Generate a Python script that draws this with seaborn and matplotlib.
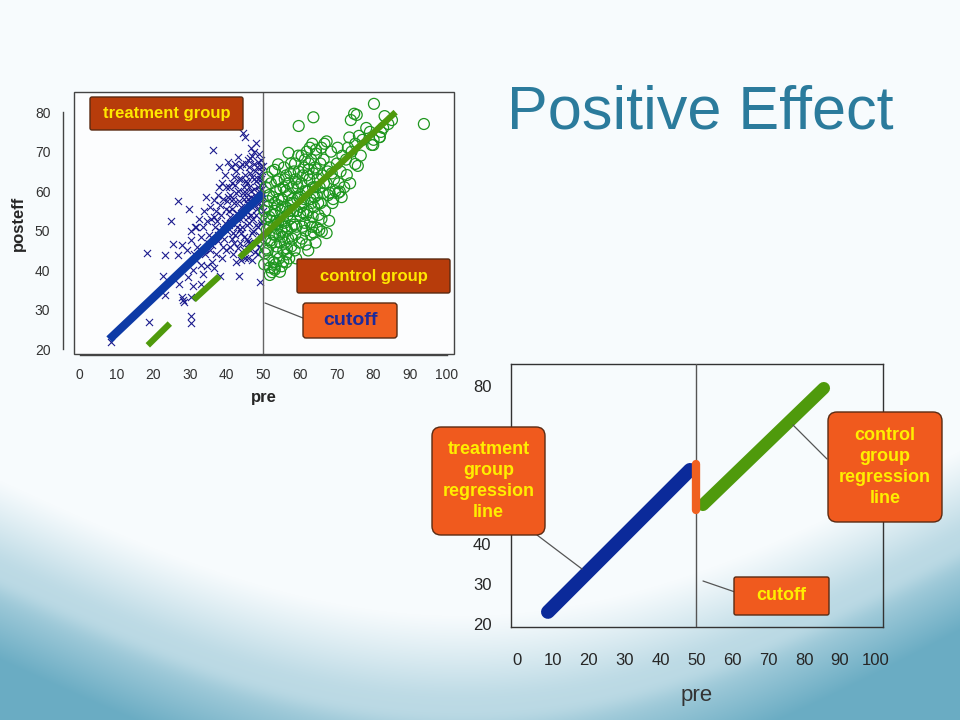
import numpy as np
import pandas as pd
import matplotlib
matplotlib.use("Agg")
import matplotlib.pyplot as plt
import matplotlib.transforms as mtransforms
from matplotlib.patches import FancyBboxPatch, Rectangle
from matplotlib.lines import Line2D
import seaborn as sns

# scatter values: (pre, posteff)
treat_points = [
    (8.6, 21.8), (18.2, 44.3), (18.8, 27), (22.7, 38.6), (23.1, 43.8), (23.1, 33.8),
    (24.7, 52.4), (25.3, 46.6), (26.7, 43.8), (26.8, 57.6), (27.1, 36.5), (27.7, 33.3),
    (27.9, 46.3), (28.1, 32.5), (28.4, 32), (29.2, 45.1), (29.5, 38.4), (29.6, 55.6),
    (30.2, 49.8), (30.2, 47.7), (30.2, 28.3), (30.2, 26.6), (30.2, 33.3), (30.7, 35.9),
    (31.3, 51), (31.6, 50.9), (32.9, 41.4), (32.9, 36.5), (33.4, 51), (34.3, 58.5),
    (31, 44), (32, 46), (33, 48.5), (34, 44), (34.5, 41), (33.5, 39), (31.5, 42.5),
    (32.5, 53), (34.8, 47), (30.8, 40), (33.8, 55), (34.6, 52.5),
    (36.3, 70.3), (36.5, 57.8), (37.8, 61), (38, 66.1), (38.1, 38.6), (35.2, 49),
    (35.5, 45), (35.8, 53), (36, 42), (36.2, 48), (36.8, 51), (37, 55), (37.2, 44),
    (37.5, 47.5), (38.2, 50), (38.5, 54), (38.8, 43), (39, 58), (39.2, 48), (39.5, 52),
    (39.8, 45), (35.5, 56), (36.6, 40.5), (37.6, 59), (38.6, 62), (39.4, 64),
    (39.7, 55.5), (35.9, 46.5), (37.3, 52.5), (38.9, 46),
    (40.3, 67.4), (43.1, 68.6), (43.3, 38.6), (44.3, 74.7), (44.9, 73.7), (40.2, 50),
    (40.5, 55), (40.8, 46), (41, 59), (41.2, 52), (41.5, 62), (41.7, 44), (42, 57),
    (42.2, 49), (42.5, 65), (42.7, 53), (43, 60), (43.5, 47), (43.8, 56), (44, 63),
    (44.2, 51), (44.5, 43.5), (44.8, 58), (40.6, 61), (41.4, 48), (42.4, 42),
    (42.9, 54.5), (43.6, 66), (44.6, 61), (40.1, 57.5), (41.9, 63.5), (43.2, 45.5),
    (44.4, 53.5), (41.1, 66), (42.6, 59.5), (43.9, 49.5), (40.9, 53.5), (42.1, 47),
    (44.1, 67), (44, 42.5), (45, 43),
    (48.1, 72.3), (49, 37.1), (45.2, 55), (45.4, 48), (45.6, 62), (45.8, 58), (46, 66),
    (46.2, 52), (46.4, 45), (46.6, 60), (46.8, 69), (47, 56), (47.2, 50), (47.4, 63),
    (47.6, 47), (47.8, 59), (48, 54), (48.2, 66), (48.4, 61), (48.6, 44), (48.8, 57),
    (49, 64), (49.2, 52), (49.4, 68), (49.6, 59), (49.8, 55), (45.1, 64), (45.9, 43),
    (46.3, 57.5), (46.9, 63.5), (47.3, 67), (47.9, 51.5), (48.3, 58.5), (48.7, 49),
    (49.1, 61.5), (49.5, 65), (49.9, 62), (45.5, 51.5), (46.5, 54), (47.5, 58),
    (48.5, 63), (49.3, 56), (49.7, 48), (45.7, 68), (46.7, 71), (47.7, 65),
    (48.9, 69.5), (49.8, 66.5), (45.3, 59.5), (46.1, 61), (47.1, 53), (48.1, 47),
    (49.6, 52.5), (44.7, 45), (46.9, 42.5), (45.8, 47.5),
    (40.4, 58.5), (41.3, 55.5), (42.3, 61.5), (43.3, 57.5), (44.3, 59.5), (45.3, 62.5),
    (46.3, 64.5), (47.3, 60.5), (48.3, 55.5), (49.3, 58.5), (40.7, 51.5), (41.6, 49.5),
    (42.8, 51), (43.7, 53), (44.9, 55.5), (45.9, 53.5), (46.8, 49.5), (47.8, 56.5),
    (48.8, 60), (49.4, 63), (42.2, 67), (43.4, 63), (45.2, 67), (46.4, 68.5),
    (47.4, 70), (48.4, 67.5), (49.2, 66), (44.6, 48.5), (45.6, 45.5), (47.6, 44.5),
    (48.6, 51), (49.9, 57), (39.1, 50.5), (38.3, 56.5), (37.7, 49), (36.4, 53.5),
    (39.9, 61), (41.8, 58), (43.6, 50.5), (45.4, 57), (46.6, 58.5), (47.9, 62.5),
    (49.5, 60.5), (46.1, 47), (48.9, 46),
]

ctrl_points = [
    (93.7, 77), (80.1, 82.1), (63.6, 78.7), (59.6, 76.5), (74.7, 79.6), (73.8, 78),
    (73.4, 73.6), (81.7, 73.7), (79.9, 71.7), (82.6, 76), (75.7, 66.4), (75, 66.9),
    (73.6, 62), (72.7, 64.1), (70.4, 59.6), (68, 59.6), (70.8, 59.9), (56.8, 69.7),
    (54, 66.8), (53.1, 65.4), (67.2, 72.6), (65.8, 71), (65.2, 50.2), (64.5, 50.8),
    (67.2, 49.4), (65.9, 49.8), (50.9, 50.2), (50.4, 44.3), (53.1, 40.1), (51.8, 40.7),
    (55.4, 42.2), (56.3, 44), (54.5, 39.6), (75.4, 79.3), (81.6, 73.7), (79.5, 71.7),
    (50.5, 48), (50.8, 53), (51, 56), (51.2, 45), (51.5, 59), (51.8, 51), (52, 62),
    (52.2, 47), (52.5, 54), (52.8, 42), (53, 57), (53.2, 49), (53.5, 60), (53.8, 44.5),
    (54, 52), (54.2, 63), (54.5, 47), (54.8, 55), (55, 41), (55, 58), (50.6, 61),
    (51.4, 42.5), (52.4, 65), (53.4, 52.5), (54.6, 60.5), (50.3, 55), (51.9, 47.5),
    (52.9, 40.5), (53.9, 56.5), (54.9, 50), (50.2, 41.5), (51.1, 63.5), (52.6, 58.5),
    (53.6, 46), (54.3, 43), (51.7, 38.8), (52.3, 39.5), (53.3, 41.5),
    (55.3, 53), (55.5, 61), (55.8, 47), (56, 56), (56.2, 64), (56.5, 50), (56.8, 59),
    (57, 43), (57.2, 53), (57.5, 67), (57.8, 48), (58, 61), (58.2, 55), (58.5, 45),
    (58.8, 63), (59, 51), (59.2, 58), (59.5, 69), (59.8, 47), (60, 54), (55.6, 66),
    (56.4, 45.5), (57.4, 57), (58.4, 51.5), (59.4, 61), (55.9, 51), (56.9, 62),
    (57.9, 58), (58.9, 43), (59.6, 65), (55.2, 48.5), (56.6, 54), (57.6, 46),
    (58.6, 67), (59.1, 55),
    (60.3, 62), (60.5, 48), (60.8, 57), (61, 66), (61.2, 52), (61.5, 60), (61.8, 70),
    (62, 55), (62.2, 45), (62.5, 63), (62.8, 58), (63, 68), (63.2, 51), (63.5, 61),
    (63.8, 56), (64, 66), (64.2, 47), (64.5, 59), (64.8, 63), (65, 54), (60.4, 69),
    (61.4, 50), (62.4, 67), (63.4, 53.5), (64.4, 69.5), (60.9, 54.5), (61.9, 64),
    (62.9, 49), (63.9, 58.5), (64.9, 57), (62.6, 71), (61.6, 46.5), (60.1, 59),
    (63.6, 64.5),
    (65.3, 61), (65.6, 57), (66, 64), (66.4, 68), (66.8, 55), (67.2, 62), (67.6, 59),
    (68, 66), (68.4, 70), (68.8, 57), (69.2, 63), (69.6, 60), (70, 67), (70.5, 62),
    (71, 65), (71.5, 69), (72, 61), (65.8, 53), (66.6, 72), (67.9, 52.5), (69, 58),
    (70.2, 71), (71.3, 58.5), (66.2, 59.5), (68.6, 64.5),
    (72.5, 68), (73, 71), (74, 70), (75, 72), (76, 74), (77, 73), (78, 76), (79, 75),
    (80, 73), (82, 75), (84, 77), (76.5, 69), (83, 79), (85, 78),
    (52.1, 52.5), (53.1, 55), (54.1, 58), (55.1, 56), (56.1, 60), (57.1, 55), (58.1, 57),
    (59.1, 62), (60.2, 56), (61.1, 58), (62.1, 60), (63.1, 57), (64.1, 61), (52.7, 49),
    (53.7, 50.5), (55.7, 52), (56.7, 48), (57.7, 51), (58.7, 49), (60.6, 51),
    (61.7, 54), (62.7, 52), (63.7, 49.5), (51.3, 57.5), (50.7, 45.5), (51.6, 53.5),
    (54.4, 49), (55.4, 45), (56.2, 42), (53.6, 62.5), (55.8, 63), (57.3, 64.5),
    (58.3, 65), (60.7, 64), (61.3, 68), (62.3, 65.5), (59.7, 58.5), (64.6, 65.5),
    (65.5, 67), (66.5, 62), (67.5, 65), (63.3, 72), (64.3, 70.5),
]

# regression lines in the upper chart
treat_fit_pre = [8, 50]
treat_fit_post = [22.5, 59.5]
ctrl_fit_pre = [43.5, 86]
ctrl_fit_post = [43.2, 80]
ctrl_dash_pre = [[18.5, 24.5], [31, 38]]
ctrl_dash_post = [[21, 26.5], [32.5, 38.5]]

# regression lines in the lower chart
low_treat_pre = [8.6, 48.2]
low_treat_post = [23, 58.8]
low_ctrl_pre = [51.8, 85.5]
low_ctrl_post = [50, 79.4]
jump_pre = [49.9, 49.9]
jump_post = [48.7, 60.3]
cutoff = 50

x_ticks = [0, 10, 20, 30, 40, 50, 60, 70, 80, 90, 100]
y_ticks_top = [20, 30, 40, 50, 60, 70, 80]
y_ticks_low = [20, 30, 40, 50, 60, 70, 80]
# 50-70 sit behind the callout in the lower chart
y_labels_low = ["20", "30", "40", "", "", "", "80"]

treat_df = pd.DataFrame(treat_points, columns=["pre", "posteff"])
ctrl_df = pd.DataFrame(ctrl_points, columns=["pre", "posteff"])

sns.set_style("white")
plt.rcParams["font.family"] = ["Liberation Sans", "DejaVu Sans"]

W, H = 960, 720
fig = plt.figure(figsize=(9.6, 7.2), dpi=100)

# slide background: white top fading into a blue wave at the bottom
bg = fig.add_axes([0, 0, 1, 1], zorder=-10)
yy, xx = np.mgrid[0:H, 0:W].astype(float)
start = 480 + 150 * np.sin(np.pi * xx / 960) - 30 * (xx / 960)
t = np.clip((yy - start) / 180, 0, 1) ** 1.1
streak = 0.08 * np.exp(-((yy - (start + 100)) / 14) ** 2)
t = np.clip(t - streak, 0, 1)
light = np.array([247, 251, 253]) / 255
deep = np.array([106, 172, 195]) / 255
img = light * (1 - t[..., None]) + deep * t[..., None]
bg.imshow(img, aspect="auto", extent=[0, W, H, 0])
bg.set_axis_off()

px = mtransforms.Affine2D().scale(1 / W, 1 / H) + fig.transFigure


def note(x0, y0, x1, y1, text, fc, tc, size, rounding=3, ls=1.1):
    box = FancyBboxPatch((x0, H - y1), x1 - x0, y1 - y0,
                         boxstyle=f"round,pad=0,rounding_size={rounding}",
                         transform=px, fc=fc, ec="#5a2a12", lw=1.0, zorder=20)
    fig.add_artist(box)
    fig.text((x0 + x1) / 2 / W, 1 - (y0 + y1) / 2 / H, text, ha="center", va="center",
             color=tc, fontsize=size, fontweight="bold", linespacing=ls, zorder=21)


def leader(x0, y0, x1, y1):
    fig.add_artist(Line2D([x0, x1], [H - y0, H - y1], transform=px,
                          color="#555555", lw=0.9, zorder=19))


# ---- upper chart: data with both groups
ax = fig.add_axes([74 / W, 1 - 354 / H, 380 / W, 262 / H])
ax.set_facecolor("#fcfdfe")
sns.scatterplot(data=treat_df, x="pre", y="posteff", ax=ax, marker="x",
                color="#1c1c8e", s=26, linewidth=0.8, zorder=3)
sns.scatterplot(data=ctrl_df, x="pre", y="posteff", ax=ax, marker="o",
                facecolor="none", edgecolor="#1e961e", s=62, linewidth=0.9, zorder=3)
ax.plot(treat_fit_pre, treat_fit_post, color="#0d3aa6", lw=6, zorder=4,
        solid_capstyle="butt")
ax.plot(ctrl_fit_pre, ctrl_fit_post, color="#4f9a0c", lw=4.5, zorder=4,
        solid_capstyle="butt")
for dx, dy in zip(ctrl_dash_pre, ctrl_dash_post):
    ax.plot(dx, dy, color="#4f9a0c", lw=4.5, zorder=4, solid_capstyle="butt")
ax.axvline(cutoff, color="#666666", lw=1.0, zorder=5)
ax.set_xlim(-1.6, 101.9)
ax.set_ylim(18.8, 85.1)
for side in ["top", "right"]:
    ax.spines[side].set_visible(False)
ax.spines["left"].set_position(("outward", 8))
ax.spines["left"].set_bounds(20, 80)
ax.spines["bottom"].set_position(("outward", 1))
ax.spines["bottom"].set_bounds(0, 100)
for side in ["left", "bottom"]:
    ax.spines[side].set_color("#444444")
    ax.spines[side].set_linewidth(1.0)
ax.add_patch(Rectangle((0, 0), 1, 1, transform=ax.transAxes, fill=False,
                       ec="#444444", lw=1.0, clip_on=False, zorder=6))
ax.set_xticks(x_ticks)
ax.set_yticks(y_ticks_top)
ax.tick_params(axis="both", direction="out", length=5, width=1, color="#444444",
               labelsize=10, labelcolor="#333333", pad=4)
ax.set_xlabel("pre", fontsize=12, fontweight="bold", labelpad=6)
ax.set_ylabel("posteff", fontsize=12, fontweight="bold", labelpad=6)

note(90, 97, 243, 130, "treatment group", "#b73c0b", "#ffe800", 12, 2)
note(297, 259, 450, 293, "control group", "#b73c0b", "#ffe800", 12, 2)
note(303, 303, 397, 338, "cutoff", "#f0601f", "#1c2a9c", 14, 3)
leader(265, 303, 303, 318)

# ---- lower chart: fitted lines only
ax2 = fig.add_axes([511 / W, 1 - 627 / H, 372 / W, 263 / H])
ax2.set_facecolor("none")
sns.lineplot(x=low_treat_pre, y=low_treat_post, ax=ax2, color="#0b2a9a", lw=10,
             estimator=None, sort=False, zorder=4)
sns.lineplot(x=low_ctrl_pre, y=low_ctrl_post, ax=ax2, color="#4f9a0c", lw=9,
             estimator=None, sort=False, zorder=4)
sns.lineplot(x=jump_pre, y=jump_post, ax=ax2, color="#f0601f", lw=6,
             estimator=None, sort=False, zorder=5)
ax2.axvline(cutoff, color="#555555", lw=1.0, zorder=3)
ax2.set_xlim(-1.7, 102)
ax2.set_ylim(19.2, 85.5)
for side in ax2.spines.values():
    side.set_color("#333333")
    side.set_linewidth(1.0)
ax2.set_xticks(x_ticks)
ax2.set_yticks(y_ticks_low)
ax2.set_yticklabels(y_labels_low)
ax2.tick_params(axis="x", direction="out", length=7, width=1.2, color="#222222",
                labelsize=12, pad=12)
ax2.tick_params(axis="y", direction="out", length=10, width=1.2, color="#222222",
                labelsize=12, pad=4)
ax2.set_xlabel("pre", fontsize=16, color="#333333", labelpad=12)
ax2.set_ylabel("")

note(432, 427, 545, 535, "treatment\ngroup\nregression\nline", "#f05a1e", "#ffee00",
     13, 9, 1.3)
note(828, 412, 942, 522, "control\ngroup\nregression\nline", "#f05a1e", "#ffee00",
     13, 9, 1.3)
note(734, 577, 829, 615, "cutoff", "#f05a1e", "#ffee00", 13, 2)
leader(537, 535, 582, 569)
leader(827, 459, 793, 425)
leader(735, 592, 703, 581)

fig.text(700 / W, 1 - 113 / H, "Positive Effect", fontsize=44, color="#2b7b9c",
         ha="center", va="center")

fig.savefig("out.png", dpi=100)
